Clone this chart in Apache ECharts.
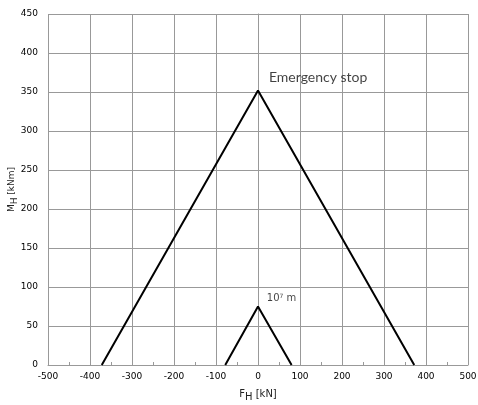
<!DOCTYPE html>
<html><head><meta charset="utf-8">
<script src="https://cdn.jsdelivr.net/npm/echarts@6/dist/echarts.min.js"></script>
<style>html,body{margin:0;padding:0;background:#fff}#c{width:478px;height:405px}</style>
</head><body><div id="c"></div>
<script>
const emergencyStopX = [-372, 0, 372];
const emergencyStopY = [0, 352, 0];
const tenMillionX = [-78, 0, 80];
const tenMillionY = [0, 75, 0];
const annotations = [
  {text: 'Emergency stop', x: 26, y: 369, size: 14, font: 'Lato'},
  {text: '10{sup|7} m', x: 21, y: 85, size: 10, font: 'DejaVu Sans'}
];
const chart = echarts.init(document.getElementById('c'));
const toPts = (xs, ys) => xs.map((x, i) => [x, ys[i]]);
const tickFont = {fontFamily: 'DejaVu Sans', fontSize: 9, color: '#000'};
chart.setOption({
  animation: false,
  grid: {left: 48, right: 10, top: 14, bottom: 40, containLabel: false, outerBoundsMode: 'none'},
  xAxis: {
    type: 'value', min: -500, max: 500, interval: 100,
    name: 'F{s|H} [kN]', nameLocation: 'middle', nameGap: 21, nameMoveOverlap: false,
    nameTextStyle: {fontFamily: 'DejaVu Sans', fontSize: 10, color: '#222',
      rich: {s: {fontFamily: 'DejaVu Sans', fontSize: 10, color: '#222', padding: [6,0,0,0]}}},
    axisLine: {lineStyle: {color: '#999', width: 1}},
    axisTick: {show: false, inside: true},
    minorTick: {show: true, splitNumber: 2, length: 3, lineStyle: {color: '#999'}},
    splitLine: {show: true, lineStyle: {color: '#999', width: 1}},
    axisLabel: Object.assign({margin: 7}, tickFont)
  },
  yAxis: {
    type: 'value', min: 0, max: 450, interval: 50,
    name: 'M{s|H} [kNm]', nameLocation: 'middle', nameGap: 29, nameRotate: 90, nameMoveOverlap: false,
    nameTextStyle: {fontFamily: 'DejaVu Sans', fontSize: 9, color: '#222',
      rich: {s: {fontFamily: 'DejaVu Sans', fontSize: 9, color: '#222', padding: [5,0,0,0]}}},
    axisLine: {show: true, lineStyle: {color: '#999', width: 1}},
    axisTick: {show: false},
    splitLine: {show: true, lineStyle: {color: '#999', width: 1}},
    axisLabel: Object.assign({margin: 10}, tickFont)
  },
  series: [
    {type: 'line', data: toPts(emergencyStopX, emergencyStopY), symbol: 'none',
     lineStyle: {color: '#000', width: 2}},
    {type: 'line', data: toPts(tenMillionX, tenMillionY), symbol: 'none',
     lineStyle: {color: '#000', width: 2}},
    {type: 'scatter', symbolSize: 0, silent: true,
     data: annotations.map(a => ({value: [a.x, a.y], name: a.text,
       label: {fontSize: a.size, fontFamily: a.font,
         rich: {sup: {fontSize: 6, fontFamily: a.font, color: '#111', padding: [0,0,5,0]}}}})),
     label: {show: true, position: 'right', distance: 0,
       formatter: p => p.name, color: '#111'}}
  ]
});
</script></body></html>
